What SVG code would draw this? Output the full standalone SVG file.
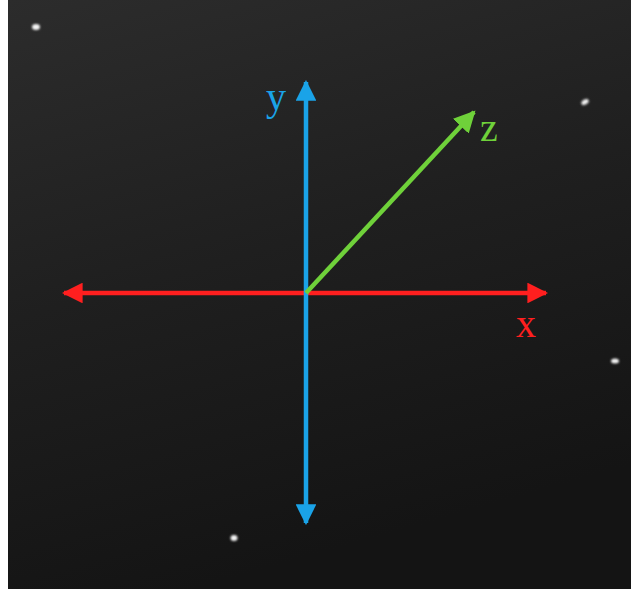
<svg xmlns="http://www.w3.org/2000/svg" width="631" height="589" viewBox="0 0 631 589">
<defs>
<linearGradient id="bg" x1="0" y1="0" x2="0.3" y2="1">
<stop offset="0" stop-color="#2c2c2c"/>
<stop offset="0.5" stop-color="#1f1f1f"/>
<stop offset="1" stop-color="#141414"/>
</linearGradient>
<filter id="blur" x="-1" y="-1" width="3" height="3"><feGaussianBlur stdDeviation="1.2"/></filter>
<marker id="ar" viewBox="0 0 10 10" refX="9" refY="5" markerWidth="4.6" markerHeight="4.6" orient="auto-start-reverse" markerUnits="strokeWidth"><path d="M0,0 L10,5 L0,10 Z" fill="#ff1f1f"/></marker>
<marker id="ab" viewBox="0 0 10 10" refX="9" refY="5" markerWidth="4.6" markerHeight="4.6" orient="auto-start-reverse" markerUnits="strokeWidth"><path d="M0,0 L10,5 L0,10 Z" fill="#1aa3e8"/></marker>
<marker id="ag" viewBox="0 0 10 10" refX="9" refY="5" markerWidth="4.8" markerHeight="4.8" orient="auto" markerUnits="strokeWidth"><path d="M0,0 L10,5 L0,10 Z" fill="#6fd13a"/></marker>
</defs>
<style>
.lbl{font-family:"Liberation Serif","Times New Roman",serif;font-size:40px}
.star{fill:#f4f4f4;filter:url(#blur)}
</style>
<rect width="631" height="589" fill="#ffffff"/>
<rect x="8" y="0" width="623" height="589" fill="url(#bg)"/>
<g id="stars">
<ellipse class="star" cx="36" cy="27" rx="4" ry="3"/>
<ellipse class="star" cx="585" cy="102" rx="4" ry="2.5" transform="rotate(-30 585 102)"/>
<ellipse class="star" cx="615" cy="361" rx="4" ry="2.5"/>
<ellipse class="star" cx="234" cy="538" rx="3.5" ry="3"/>
</g>
<g id="connectors">
<line x1="64" y1="293" x2="546" y2="293" stroke="#ff1f1f" stroke-width="4.5" marker-start="url(#ar)" marker-end="url(#ar)"/>
<line x1="306" y1="82" x2="306" y2="523" stroke="#1aa3e8" stroke-width="4.5" marker-start="url(#ab)" marker-end="url(#ab)"/>
<line x1="306" y1="293" x2="474" y2="112" stroke="#6fd13a" stroke-width="4.5" marker-end="url(#ag)"/>
</g>
<g id="label-y"><text class="lbl" x="266" y="110" fill="#1aa3e8">y</text></g>
<g id="label-z"><text class="lbl" x="480" y="141" fill="#6fd13a">z</text></g>
<g id="label-x"><text class="lbl" x="516" y="337" fill="#ff1f1f">x</text></g>
</svg>
